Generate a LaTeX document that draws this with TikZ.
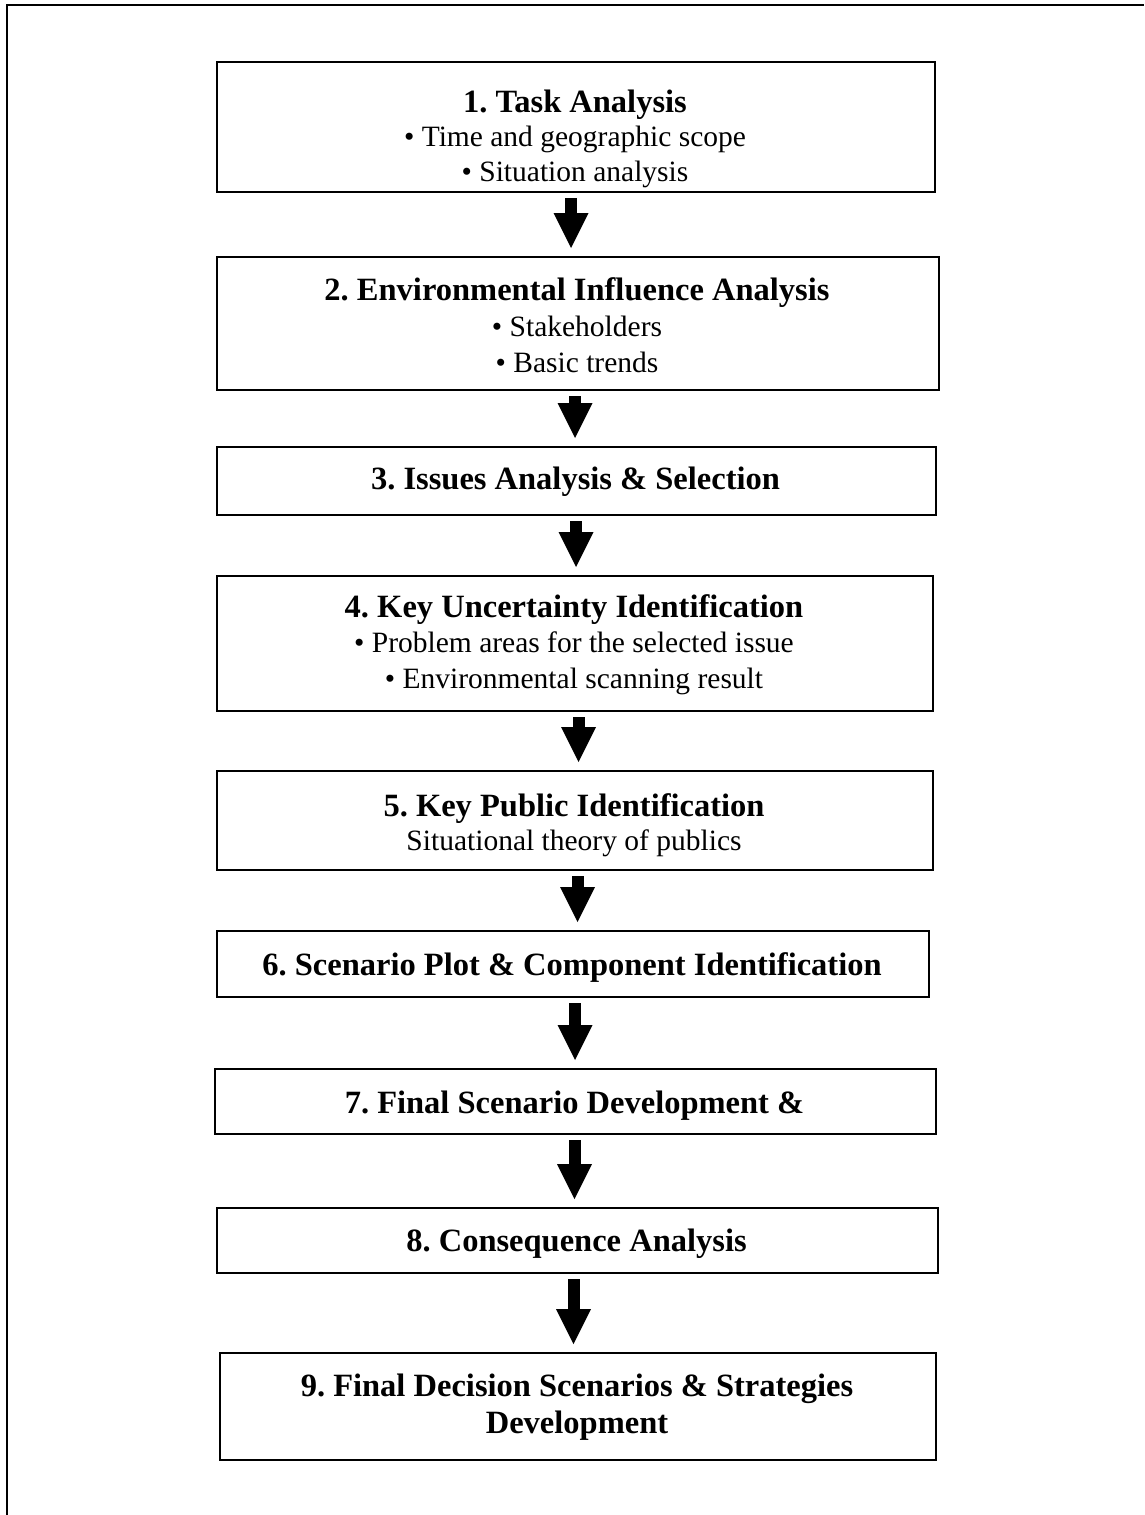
\documentclass[tikz,border=0pt]{standalone}
\usepackage{fontspec}
\setmainfont{Liberation Serif}
\usetikzlibrary{arrows.meta}
\frenchspacing
\begin{document}
\begin{tikzpicture}[x=1pt,y=-1pt,
  stepbox/.style={draw=black, line width=2pt, rectangle, inner sep=0pt, anchor=north west},
  steptitle/.style={anchor=base, inner sep=0pt, font=\fontsize{32.5}{36}\selectfont\bfseries},
  stepitem/.style={anchor=base, inner sep=0pt, font=\fontsize{29.5}{36}\selectfont},
  flow/.style={line width=12pt, -{Triangle[length=35pt,width=35pt,line width=0pt]},
               shorten <=5pt, shorten >=8pt}]
\useasboundingbox (0,0) rectangle (1144,1515);

% page frame (top and left edges only)
\draw[line width=2pt] (7,1515) -- (7,4.7) -- (1144,4.7);

% process steps
\node[stepbox, minimum width=718pt, minimum height=130pt] (b1) at (216,61) {};
\node[steptitle] (t1) at (575,112) {1. Task Analysis};
\node[stepitem] (t1a) at (575,146) {• Time and geographic scope};
\node[stepitem] (t1b) at (575,181) {• Situation analysis};

\node[stepbox, minimum width=722pt, minimum height=133pt] (b2) at (216,256) {};
\node[steptitle] (t2) at (577,300) {2. Environmental Influence Analysis};
\node[stepitem] (t2a) at (577,336.5) {• Stakeholders};
\node[stepitem] (t2b) at (577,372) {• Basic trends};

\node[stepbox, minimum width=719pt, minimum height=68pt] (b3) at (216,446) {};
\node[steptitle] (t3) at (575.5,489) {3. Issues Analysis \& Selection};

\node[stepbox, minimum width=716pt, minimum height=135pt] (b4) at (216,575) {};
\node[steptitle] (t4) at (574,617) {4. Key Uncertainty Identification};
\node[stepitem] (t4a) at (574,652) {• Problem areas for the selected issue};
\node[stepitem] (t4b) at (574,688) {• Environmental scanning result};

\node[stepbox, minimum width=716pt, minimum height=99pt] (b5) at (216,770) {};
\node[steptitle] (t5) at (574,816) {5. Key Public Identification};
\node[stepitem] (t5a) at (574,850) {Situational theory of publics};

\node[stepbox, minimum width=712pt, minimum height=66pt] (b6) at (216,930) {};
\node[steptitle] (t6) at (572,975) {6. Scenario Plot \& Component Identification};

\node[stepbox, minimum width=721pt, minimum height=65pt] (b7) at (214,1068) {};
\node[steptitle] (t7) at (574.5,1113) {7. Final Scenario Development \&};

\node[stepbox, minimum width=721pt, minimum height=65pt] (b8) at (216,1207) {};
\node[steptitle] (t8) at (576.5,1251.5) {8. Consequence Analysis};

\node[stepbox, minimum width=716pt, minimum height=107pt] (b9) at (219,1352) {};
\node[steptitle] (t9) at (577,1396.5) {9. Final Decision Scenarios \& Strategies};
\node[steptitle] (t9a) at (577,1433) {Development};

% block arrows between consecutive steps
\draw[flow] ([xshift=-5pt]b1.south) -- ([xshift=-5pt]b1.south |- b2.north);
\draw[flow] ([xshift=-3pt]b2.south) -- ([xshift=-3pt]b2.south |- b3.north);
\draw[flow] ([xshift=-0.5pt]b3.south) -- ([xshift=-0.5pt]b3.south |- b4.north);
\draw[flow] ([xshift=3.5pt]b4.south) -- ([xshift=3.5pt]b4.south |- b5.north);
\draw[flow] ([xshift=2.5pt]b5.south) -- ([xshift=2.5pt]b5.south |- b6.north);
\draw[flow] ([xshift=2pt]b6.south) -- ([xshift=2pt]b6.south |- b7.north);
\draw[flow] ([xshift=-1pt]b7.south) -- ([xshift=-1pt]b7.south |- b8.north);
\draw[flow] ([xshift=-4pt]b8.south) -- ([xshift=-4pt]b8.south |- b9.north);
\end{tikzpicture}
\end{document}
